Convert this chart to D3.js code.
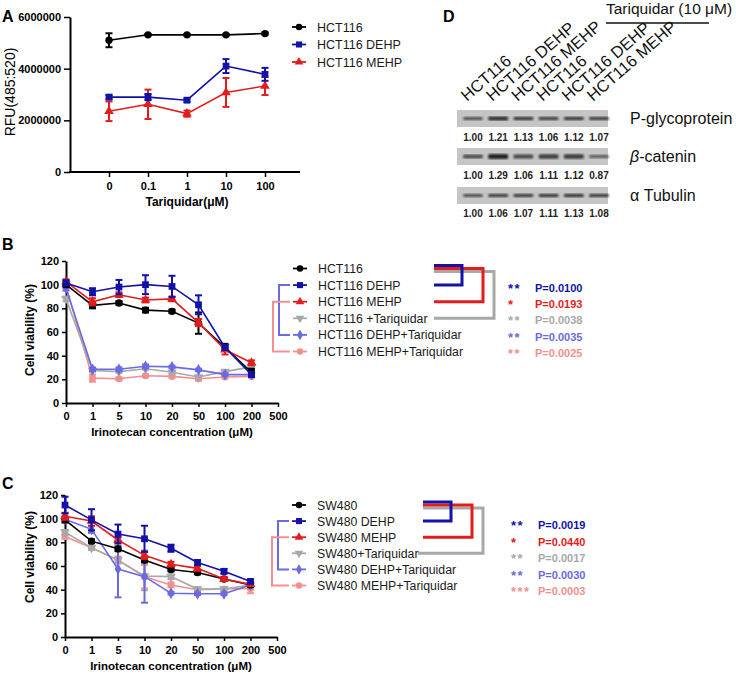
<!DOCTYPE html>
<html><head><meta charset="utf-8">
<script src="https://cdn.jsdelivr.net/npm/d3@7"></script>
<style>body{margin:0;background:#fff} svg{display:block}</style>
</head><body><svg id="c" width="736" height="675"></svg>
<script>
// ---------------- DATA ----------------
// Panel A
const aDoses = ["0","0.1","1","10","100"];
const aSeriesNames = ["HCT116","HCT116 DEHP","HCT116 MEHP"];
const aHCT116 = [5.10e6,5.31e6,5.31e6,5.31e6,5.36e6];
const aHCT116Err = [0.27e6,0.03e6,0.03e6,0.03e6,0.04e6];
const aDEHP = [2.90e6,2.90e6,2.78e6,4.10e6,3.78e6];
const aDEHPErr = [0.08e6,0.12e6,0.06e6,0.27e6,0.25e6];
const aMEHP = [2.35e6,2.62e6,2.26e6,3.08e6,3.33e6];
const aMEHPErr = [0.38e6,0.57e6,0.12e6,0.56e6,0.35e6];
const aYTicks = [0,2000000,4000000,6000000];

// Panel B / C shared
const irinoDoses = ["0","1","5","10","20","50","100","200","500"];
const viabTicks = [0,20,40,60,80,100,120];

// Panel B (HCT116)
const bSeriesNames = ["HCT116","HCT116 DEHP","HCT116 MEHP","HCT116 +Tariquidar","HCT116 DEHP+Tariquidar","HCT116 MEHP+Tariquidar"];
const bHCT116 = [100,82.5,84.5,78.5,77.5,67.5,47,26];
const bHCT116Err = [2,2.5,1.5,2,1.5,9,3,3];
const bDEHP = [101.5,94,98,100,98.5,83,47,24];
const bDEHPErr = [2,3,6,8,9,8,2,2];
const bMEHP = [102.5,85.5,91.5,87,88,68,45,34];
const bMEHPErr = [2,3,2,2,2,3,4,2];
const bTar = [88,27.5,26.5,29,26,22,26.5,30.5];
const bTarErr = [2,1,1,1,1,1,1,3];
const bDEHPTar = [97,28.5,28.5,31,30.5,28,24,24];
const bDEHPTarErr = [2,1.5,1.5,1.5,1,1,1,1];
const bMEHPTar = [98.5,21,20.5,23,22.5,20.5,22,22.5];
const bMEHPTarErr = [2,3,1,1,1,1.5,1,1];
const bStars = ["**","*","**","**","**"];
const bPvals = ["P=0.0100","P=0.0193","P=0.0038","P=0.0035","P=0.0025"];

// Panel C (SW480)
const cSeriesNames = ["SW480","SW480 DEHP","SW480 MEHP","SW480+Tariquidar","SW480 DEHP+Tariquidar","SW480 MEHP+Tariquidar"];
const cSW480 = [99,81,74.5,65,57,54.5,49,44];
const cSW480Err = [2,1.5,2,2,1.5,1.5,1.5,1.5];
const cDEHP = [111.5,99,87,83,75,63,55.5,47];
const cDEHPErr = [7,9,8,11,3,2,2,1.5];
const cMEHP = [102,98,82,69,61.5,58,49,44.5];
const cMEHPErr = [3,4,2,3,2,2,1.5,1.5];
const cTar = [88.5,75.5,65,51.5,51,40.5,40.5,44];
const cTarErr = [2,2,2,12,2,1.5,1.5,1.5];
const cDEHPTar = [99.5,91,57.5,51,37,36.5,36.5,44];
const cDEHPTarErr = [3,3,24,22,1,1,1,2];
const cMEHPTar = [85,75.5,65,51,44,40,40.5,41];
const cMEHPTarErr = [2,2,3,10,2,1.5,1.5,4];
const cStars = ["**","*","**","**","***"];
const cPvals = ["P=0.0019","P=0.0440","P=0.0017","P=0.0030","P=0.0003"];

// Panel D (western blot)
const blotLanes = ["HCT116","HCT116 DEHP","HCT116 MEHP","HCT116","HCT116 DEHP","HCT116 MEHP"];
const blotProteins = ["P-glycoprotein","β-catenin","α Tubulin"];
const pgpRatio = [1.00,1.21,1.13,1.06,1.12,1.07];
const bcatRatio = [1.00,1.29,1.06,1.11,1.12,0.87];
const tubRatio = [1.00,1.06,1.07,1.11,1.13,1.08];

// ---------------- STYLE ----------------
const FONT = "'Liberation Sans', Arial, Helvetica, sans-serif";
const C_BLACK = "#000000", C_BLUE = "#1212a8", C_RED = "#e41c1c",
      C_GRAY = "#a8a8a8", C_PURPLE = "#6a6ae2", C_PINK = "#f29090";
const seriesColors = [C_BLACK, C_BLUE, C_RED, C_GRAY, C_PURPLE, C_PINK];
const shapes = [
  {t:d3.symbolCircle, s:42, r:0},
  {t:d3.symbolSquare, s:46, r:0},
  {t:d3.symbolTriangle, s:40, r:0},
  {t:d3.symbolTriangle, s:40, r:180},
  {t:d3.symbolDiamond, s:40, r:0},
  {t:d3.symbolCircle, s:40, r:0}
];

const svg = d3.select("#c").style("font-family", FONT);
svg.append("rect").attr("width",736).attr("height",675).attr("fill","#fff");

function styleAxis(g){
  g.select(".domain").attr("stroke","#000").attr("stroke-width",2);
  g.selectAll(".tick line").attr("stroke","#000").attr("stroke-width",1.5);
  g.selectAll(".tick text").attr("fill","#000").style("font-family",FONT)
   .style("font-weight","bold").style("font-size","11px");
}

function drawSeries(g, x, y, doses, vals, errs, color, shape, lw){
  const pts = vals.map((v,i)=>({x:x(doses[i]), v, e: errs ? errs[i] : 0}));
  const eb = g.append("g").attr("stroke",color).attr("stroke-width",2);
  pts.forEach(p=>{
    if(p.e>0){
      eb.append("line").attr("x1",p.x).attr("x2",p.x).attr("y1",y(p.v-p.e)).attr("y2",y(p.v+p.e));
      [p.v-p.e,p.v+p.e].forEach(vv=>eb.append("line").attr("x1",p.x-3.5).attr("x2",p.x+3.5).attr("y1",y(vv)).attr("y2",y(vv)));
    }
  });
  g.append("path").datum(pts).attr("fill","none").attr("stroke",color).attr("stroke-width",lw||1.6)
   .attr("d", d3.line().x(d=>d.x).y(d=>y(d.v)));
  g.selectAll(null).data(pts).enter().append("path")
   .attr("d", d3.symbol().type(shape.t).size(shape.s))
   .attr("transform", d=>`translate(${d.x},${y(d.v)}) rotate(${shape.r})`)
   .attr("fill",color);
}

function legendRow(g, xSym, yRow, color, shape, label, fs){
  g.append("line").attr("x1",xSym).attr("x2",xSym+14).attr("y1",yRow).attr("y2",yRow)
   .attr("stroke",color).attr("stroke-width",1.8);
  g.append("path").attr("d", d3.symbol().type(shape.t).size(shape.s*0.8))
   .attr("transform",`translate(${xSym+7},${yRow}) rotate(${shape.r})`).attr("fill",color);
  g.append("text").attr("x",xSym+25).attr("y",yRow+4.5).text(label)
   .style("font-size",(fs||12)+"px").attr("fill","#1a1a1a");
}

function panelLetter(x,y,t){
  svg.append("text").attr("x",x).attr("y",y).text(t).style("font-weight","bold").style("font-size","16px");
}

// ---------------- PANEL A ----------------
(function(){
  const g = svg.append("g");
  const x = d3.scalePoint().domain(aDoses).range([109,265]);
  const y = d3.scaleLinear().domain([0,6000000]).range([172,17]);
  const ya = g.append("g").attr("transform","translate(70,0)")
    .call(d3.axisLeft(y).tickValues(aYTicks).tickFormat(d3.format("d")).tickSize(6).tickSizeOuter(0));
  styleAxis(ya);
  const xa = g.append("g").attr("transform","translate(0,172)")
    .call(d3.axisBottom(x).tickSize(5).tickSizeOuter(0));
  styleAxis(xa);
  xa.select(".domain").remove();
  xa.selectAll(".tick text").attr("dy","0.95em");
  g.append("line").attr("x1",69).attr("x2",300).attr("y1",172).attr("y2",172).attr("stroke","#000").attr("stroke-width",2);
  g.append("text").attr("x",187).attr("y",206).attr("text-anchor","middle").text("Tariquidar(μM)")
   .style("font-weight","bold").style("font-size","12px");
  g.append("text").attr("transform","translate(15,92) rotate(-90)").attr("text-anchor","middle")
   .text("RFU(485:520)").style("font-size","14px");
  const series = [[aHCT116,aHCT116Err],[aDEHP,aDEHPErr],[aMEHP,aMEHPErr]];
  [2,1,0].forEach(i=>drawSeries(g,x,y,aDoses,series[i][0],series[i][1],seriesColors[i],shapes[i],1.6));
  aSeriesNames.forEach((n,i)=>legendRow(g,292,27+17.5*i,seriesColors[i],shapes[i],n,12.5));
  panelLetter(2,22,"A");
})();

// ---------------- PANEL B / C ----------------
function viabPanel(cfg){
  const g = svg.append("g");
  const x = d3.scalePoint().domain(irinoDoses).range([cfg.x0,cfg.x1]);
  const y = d3.scaleLinear().domain([0,120]).range([cfg.yb,cfg.yt]);
  const ya = g.append("g").attr("transform",`translate(${cfg.x0},0)`)
    .call(d3.axisLeft(y).tickValues(viabTicks).tickSize(4).tickSizeOuter(0));
  styleAxis(ya);
  const xa = g.append("g").attr("transform",`translate(0,${cfg.yb})`)
    .call(d3.axisBottom(x).tickSize(4).tickSizeOuter(0));
  styleAxis(xa);
  xa.selectAll(".tick text").attr("dy","0.95em");
  g.append("text").attr("x",(cfg.x0+cfg.x1)/2).attr("y",cfg.yb+33).attr("text-anchor","middle")
   .text("Irinotecan concentration (μM)").style("font-weight","bold").style("font-size","11.5px");
  g.append("text").attr("transform",`translate(34,${cfg.ylabY}) rotate(-90)`).attr("text-anchor","middle")
   .text("Cell viability (%)").style("font-weight","bold").style("font-size","12px");
  [5,3,4,0,2,1].forEach(i=>drawSeries(g,x,y,irinoDoses,cfg.series[i][0],cfg.series[i][1],seriesColors[i],shapes[i],1.6));
  // legend
  const rows = cfg.series.map((s,i)=>cfg.legY0+cfg.legDy*i);
  cfg.names.forEach((n,i)=>legendRow(g,cfg.legX,rows[i],seriesColors[i],shapes[i],n,12.3));
  // left brackets (DEHP vs DEHP+Tar, MEHP vs MEHP+Tar)
  const lb = [[1,4,C_PURPLE,cfg.legX-14],[2,5,C_PINK,cfg.legX-20]];
  lb.forEach(([a,b,col,bx])=>{
    g.append("path").attr("fill","none").attr("stroke",col).attr("stroke-width",2)
     .attr("d",`M${cfg.legX-3},${rows[a]}H${bx}V${rows[b]}H${cfg.legX-3}`);
  });
  // right brackets (each vs parental)
  const rb = [[1,C_BLUE,cfg.rbX[0],-3],[2,C_RED,cfg.rbX[1],0],[3,C_GRAY,cfg.rbX[2],3]];
  [2,1,0].forEach(k=>{
    const [b,col,bx,off] = rb[k];
    g.append("path").attr("fill","none").attr("stroke",col).attr("stroke-width",3)
     .attr("d",`M${cfg.rbStart},${rows[0]+off}H${bx}V${rows[b]}H${cfg.rbEndX[k]}`);
  });
  // stars and p-values
  const statCols = [C_BLUE,C_RED,C_GRAY,C_PURPLE,C_PINK];
  cfg.stars.forEach((s,i)=>{
    const yy = cfg.statY0 + cfg.statDy*i;
    g.append("text").attr("x",cfg.starX).attr("y",yy+5).text(s).attr("fill",statCols[i])
     .style("font-weight","bold").style("font-size","13px").style("letter-spacing","1.5px");
    g.append("text").attr("x",cfg.pX).attr("y",yy+4).text(cfg.pvals[i]).attr("fill",statCols[i])
     .style("font-weight","bold").style("font-size","11px");
  });
  panelLetter(2,cfg.letterY,cfg.letter);
}

viabPanel({letter:"B", letterY:250, x0:66, x1:278, yb:403, yt:261, ylabY:330,
  series:[[bHCT116,bHCT116Err],[bDEHP,bDEHPErr],[bMEHP,bMEHPErr],[bTar,bTarErr],[bDEHPTar,bDEHPTarErr],[bMEHPTar,bMEHPTarErr]],
  names:bSeriesNames, legX:293, legY0:268.5, legDy:16.6,
  rbStart:434, rbX:[462,483,494], rbEndX:[434,434,434],
  stars:bStars, pvals:bPvals, statY0:287.5, statDy:16.4, starX:508, pX:535});

viabPanel({letter:"C", letterY:489, x0:65, x1:277, yb:637, yt:495, ylabY:557,
  series:[[cSW480,cSW480Err],[cDEHP,cDEHPErr],[cMEHP,cMEHPErr],[cTar,cTarErr],[cDEHPTar,cDEHPTarErr],[cMEHPTar,cMEHPTarErr]],
  names:cSeriesNames, legX:292, legY0:505, legDy:16.1,
  rbStart:423, rbX:[451,472,483], rbEndX:[423,423,418],
  stars:cStars, pvals:cPvals, statY0:525, statDy:16.5, starX:511, pX:538});

// ---------------- PANEL D ----------------
(function(){
  const g = svg.append("g");
  panelLetter(443,22,"D");
  g.append("text").attr("x",606).attr("y",14).text("Tariquidar (10 μM)").style("font-size","15.5px").attr("fill","#111");
  g.append("line").attr("x1",606).attr("x2",709).attr("y1",23).attr("y2",23).attr("stroke","#111").attr("stroke-width",1.3);
  const lx = d3.scalePoint().domain(d3.range(blotLanes.length)).range([473,599]);
  blotLanes.forEach((l,i)=>{
    g.append("text").attr("transform",`translate(${lx(i)-6},102) rotate(-41)`).text(l)
     .style("font-size","16.5px").attr("fill","#111");
  });
  const defs = svg.append("defs");
  defs.append("filter").attr("id","blur").append("feGaussianBlur").attr("stdDeviation",0.9);
  const rowsY = [110,148,187];
  const ratios = [pgpRatio,bcatRatio,tubRatio];
  const bandH = [3.2,4,3.2];
  const numY = [141,179,217];
  rowsY.forEach((ry,r)=>{
    g.append("rect").attr("x",457).attr("y",ry).attr("width",151).attr("height",17).attr("fill","#c5c5c5");
    ratios[r].forEach((v,i)=>{
      const dark = Math.max(0, Math.min(1, 0.55 + (v-0.8)*0.9));
      g.append("rect").attr("x",lx(i)-10).attr("y",ry+8.5-bandH[r]*v/2).attr("width",20)
       .attr("height",bandH[r]*v).attr("rx",1.5).attr("fill","#222")
       .attr("opacity",dark).attr("filter","url(#blur)");
      g.append("text").attr("x",lx(i)).attr("y",numY[r]).attr("text-anchor","middle").text(v.toFixed(2))
       .style("font-weight","bold").style("font-size","10px").attr("fill","#222");
    });
    const lab = g.append("text").attr("x",630).attr("y",ry+14).style("font-size","16px").attr("fill","#111");
    if(blotProteins[r].startsWith("β")){
      lab.append("tspan").text("β").style("font-style","italic");
      lab.append("tspan").text(blotProteins[r].slice(1));
    } else lab.text(blotProteins[r]);
  });
})();
</script></body></html>
